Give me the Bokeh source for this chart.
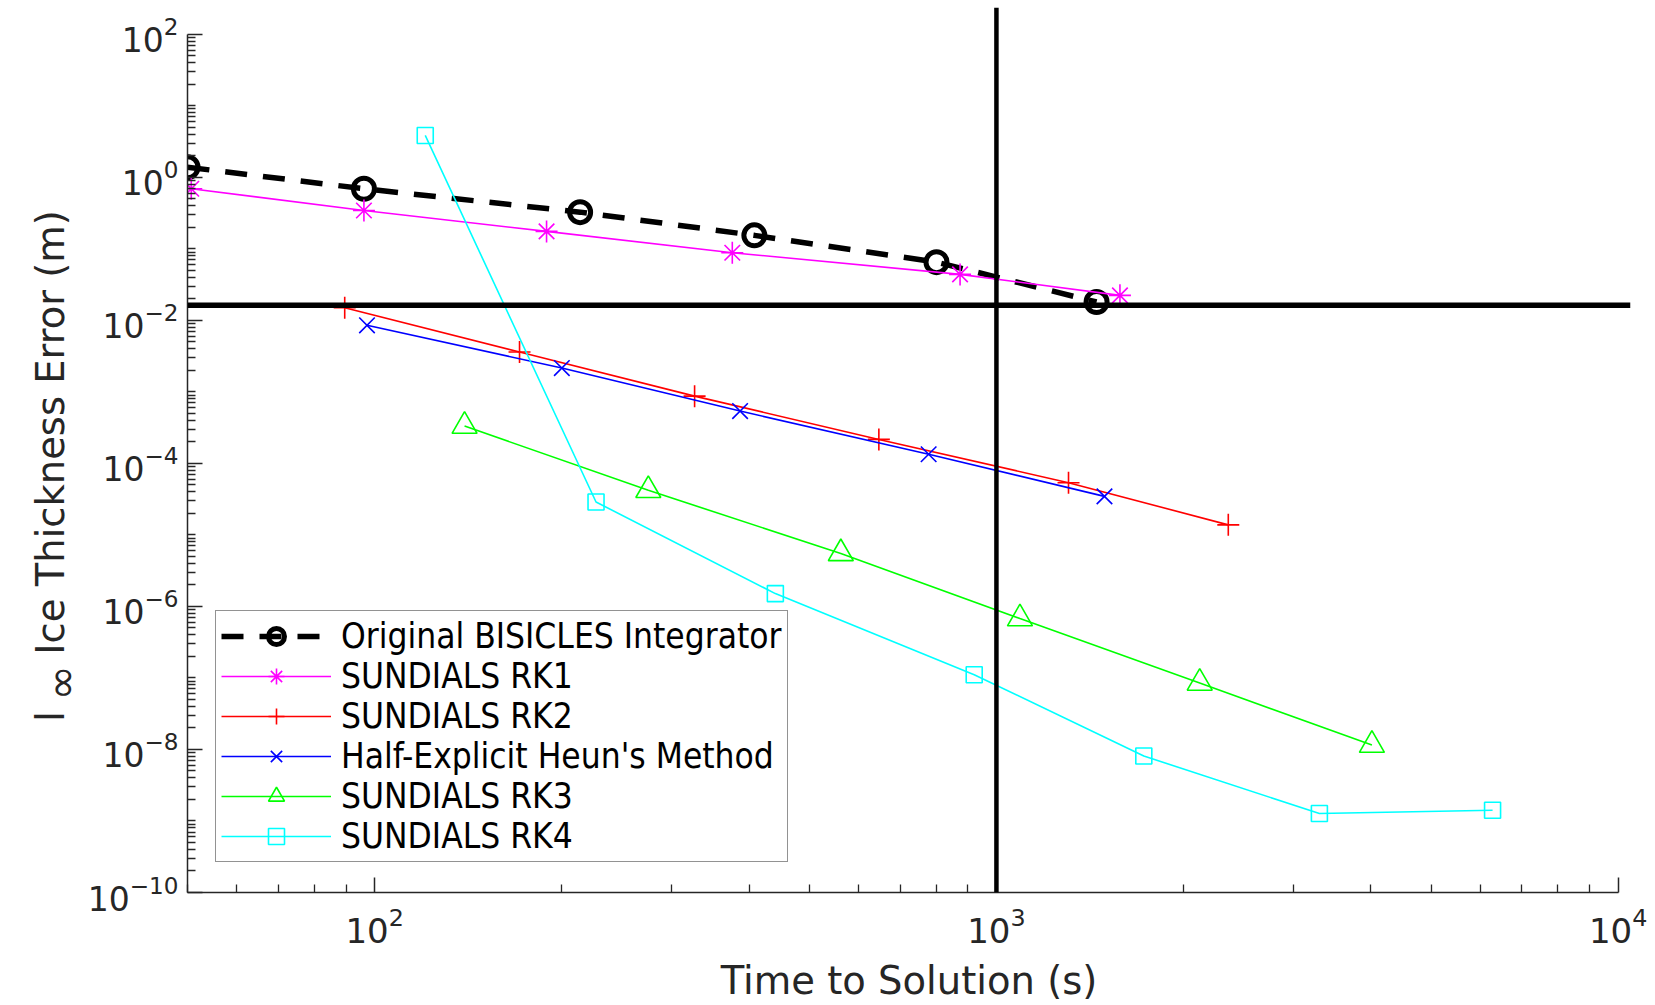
import numpy as np
from bokeh.plotting import figure
from bokeh.layouts import row
from bokeh.models import FixedTicker, Span, Label, Range1d
from bokeh.embed import file_html
from bokeh.resources import INLINE

# ---- data ----
bis_t = [50, 96.1, 214, 408, 801, 1449]
bis_e = [1.38, 0.69, 0.325, 0.154, 0.065, 0.0180]

rk1_t = [50.7, 96.1, 189, 376, 874, 1580]
rk1_e = [0.69, 0.343, 0.175, 0.088, 0.0438, 0.0223]

rk2_t = [89.5, 171, 327, 647, 1306, 2360]
rk2_e = [0.0150, 0.0036, 8.7e-4, 2.16e-4, 5.36e-5, 1.38e-5]

heun_t = [97.2, 200, 387, 778, 1492]
heun_e = [8.5e-3, 2.15e-3, 5.38e-4, 1.34e-4, 3.45e-5]

rk3_t = [139.5, 275.5, 562, 1091, 2123, 4017]
rk3_e = [3.32e-4, 4.2e-5, 5.5e-6, 6.75e-7, 8.5e-8, 1.15e-8]

rk4_t = [120.6, 227, 441, 921, 1726, 3307, 6280]
rk4_e = [3.84, 2.88e-5, 1.51e-6, 1.11e-7, 8.1e-9, 1.27e-9, 1.41e-9]

ref_time = 1000
ref_err = 0.01625

x_major = [1e2, 1e3, 1e4]
y_major = [1e-10, 1e-8, 1e-6, 1e-4, 1e-2, 1e0, 1e2]

labels = ["Original BISICLES Integrator", "SUNDIALS RK1", "SUNDIALS RK2",
          "Half-Explicit Heun's Method", "SUNDIALS RK3", "SUNDIALS RK4"]

x_title = "Time to Solution (s)"
y_title_main = "l"
y_title_sub = "\u221e"
y_title_rest = "Ice Thickness Error (m)"

TXT = "#262626"
LEFT_W = 84
H = 1005
YOFF = 72  # empirical offset of the title strip

# ---- main figure ----
p = figure(width=1655 - LEFT_W, height=H, x_axis_type="log", y_axis_type="log",
           x_range=Range1d(50, 10 ** 4.0198), y_range=Range1d(1e-10, 10 ** 2.373),
           output_backend="svg", toolbar_location=None,
           min_border_left=187 - LEFT_W, min_border_right=25, min_border_top=7,
           min_border_bottom=H - 892)
p.xgrid.visible = False
p.ygrid.visible = False
p.outline_line_color = None
p.background_fill_color = "white"
p.border_fill_color = "white"

x_minor = [k * 10 ** d for d in (1, 2, 3) for k in range(2, 10) if 50 <= k * 10 ** d <= 1e4]
y_minor = []
for d in range(-10, 2):
    for k in range(1, 10):
        if k == 1 and d % 2 == 0:
            continue
        y_minor.append(k * 10.0 ** d)

p.xaxis.ticker = FixedTicker(ticks=x_major, minor_ticks=x_minor)
p.yaxis.ticker = FixedTicker(ticks=y_major, minor_ticks=y_minor)
p.xaxis.bounds = (50, 1e4)
p.yaxis.bounds = (1e-10, 1e2)

for ax in (p.xaxis[0], p.yaxis[0]):
    ax.axis_line_color = TXT
    ax.axis_line_width = 1.5
    ax.major_tick_line_color = TXT
    ax.major_tick_line_width = 1.5
    ax.minor_tick_line_color = TXT
    ax.minor_tick_line_width = 1.3
    ax.major_tick_in = 15
    ax.major_tick_out = 0
    ax.minor_tick_in = 8
    ax.minor_tick_out = 0
    ax.major_label_text_font = "DejaVu Sans"
    ax.major_label_text_color = TXT
p.xaxis.major_label_text_font_size = "34px"
p.yaxis.major_label_text_font_size = "33px"
p.yaxis.major_label_standoff = 9
p.xaxis.major_label_standoff = 14

p.xaxis.axis_label = x_title
p.xaxis.axis_label_text_font = "DejaVu Sans"
p.xaxis.axis_label_text_font_size = "38.5px"
p.xaxis.axis_label_text_font_style = "normal"
p.xaxis.axis_label_text_color = TXT
p.xaxis.axis_label_standoff = 12

# ---- series ----
lw = 1.6
p.line(bis_t, bis_e, line_color="black", line_width=5.5, line_dash="22 16", legend_label=labels[0])
p.scatter(bis_t, bis_e, marker="circle", size=21, line_color="black", line_width=5,
          fill_color=None, legend_label=labels[0])

p.line(rk1_t, rk1_e, line_color="#ff00ff", line_width=lw, legend_label=labels[1])
p.scatter(rk1_t, rk1_e, marker="asterisk", size=22, line_color="#ff00ff", line_width=lw,
          legend_label=labels[1])

p.line(rk2_t, rk2_e, line_color="#ff0000", line_width=lw, legend_label=labels[2])
p.scatter(rk2_t, rk2_e, marker="cross", size=22, line_color="#ff0000", line_width=lw,
          legend_label=labels[2])

p.line(heun_t, heun_e, line_color="#0000ff", line_width=lw, legend_label=labels[3])
p.scatter(heun_t, heun_e, marker="x", size=22, line_color="#0000ff", line_width=lw,
          legend_label=labels[3])

p.line(rk3_t, rk3_e, line_color="#00ff00", line_width=lw, legend_label=labels[4])
p.scatter(rk3_t, rk3_e, marker="triangle", size=25, line_color="#00ff00", line_width=lw,
          fill_color=None, legend_label=labels[4])

p.line(rk4_t, rk4_e, line_color="#00ffff", line_width=lw, legend_label=labels[5])
p.scatter(rk4_t, rk4_e, marker="square", size=16, line_color="#00ffff", line_width=lw,
          fill_color=None, legend_label=labels[5])

# reference lines
p.add_layout(Span(location=ref_time, dimension="height", line_color="black", line_width=4.5))
p.add_layout(Span(location=ref_err, dimension="width", line_color="black", line_width=5.5))

# ---- legend ----
lg = p.legend[0]
lg.location = (28, 30)
lg.label_text_font = "DejaVu Sans Condensed"
lg.label_text_font_size = "35px"
lg.label_text_color = "black"
lg.glyph_width = 110
lg.glyph_height = 40
lg.label_height = 40
lg.spacing = 0
lg.padding = 5
lg.margin = 0
lg.label_standoff = 10
lg.border_line_color = TXT
lg.border_line_width = 1.5
lg.background_fill_alpha = 1.0

# ---- y-axis title strip ----
yl = figure(width=LEFT_W, height=H, x_range=Range1d(0, LEFT_W), y_range=Range1d(H, 0),
            output_backend="svg", toolbar_location=None, min_border=0,
            x_axis_location=None, y_axis_location=None)
yl.xgrid.visible = False
yl.ygrid.visible = False
yl.outline_line_color = None
yl.add_layout(Label(x=49.5, y=739 + YOFF, angle=np.pi / 2, text=y_title_main,
                    text_align="left", text_baseline="alphabetic", text_font="DejaVu Sans",
                    text_font_size="38.5px", text_color=TXT))
yl.add_layout(Label(x=61, y=715 + YOFF, angle=np.pi / 2, text=y_title_sub,
                    text_align="left", text_baseline="alphabetic", text_font="DejaVu Sans",
                    text_font_size="42px", text_color=TXT))
yl.add_layout(Label(x=49.5, y=663 + YOFF, angle=np.pi / 2, text=y_title_rest,
                    text_align="left", text_baseline="alphabetic", text_font="DejaVu Sans",
                    text_font_size="38.5px", text_color=TXT))

layout = row(yl, p, spacing=0)

open("out.html", "w").write(file_html(layout, INLINE))
